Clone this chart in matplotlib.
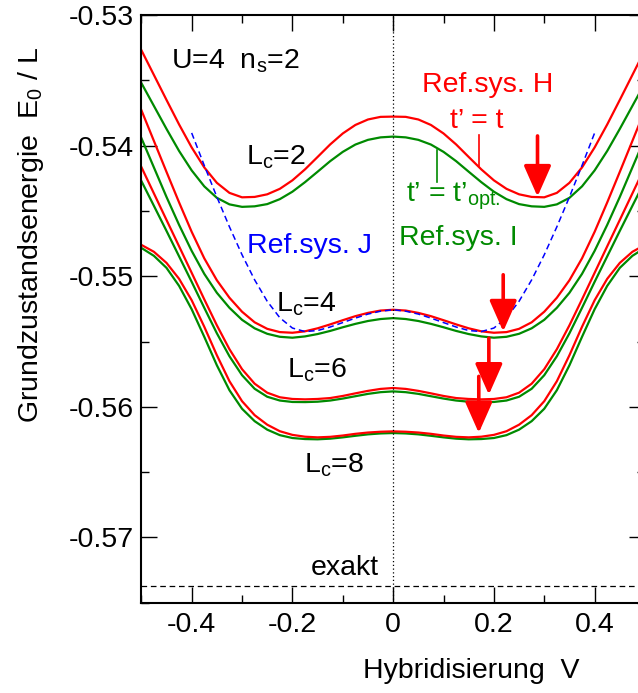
import numpy as np
import matplotlib
matplotlib.use("Agg")
import matplotlib.pyplot as plt

plt.rcParams['font.family'] = 'Liberation Sans'
plt.rcParams['mathtext.fontset'] = 'custom'
plt.rcParams['mathtext.rm'] = 'Liberation Sans'
plt.rcParams['mathtext.it'] = 'Liberation Sans:italic'
plt.rcParams['axes.unicode_minus'] = False

# hybridisation grid
V = np.linspace(-0.5, 0.5, 41)
V_J = np.linspace(-0.4, 0.4, 33)

# ref. system H (t' = t), red
H2 = [-0.53268, -0.53459, -0.53650, -0.53838, -0.54014, -0.54167, -0.54285, -0.54362, -0.54396, -0.54393, -0.54373,
      -0.54331, -0.54266, -0.54182, -0.54087, -0.53991, -0.53907, -0.53842, -0.53800, -0.53780, -0.53778,
      -0.53780, -0.53800, -0.53842, -0.53907, -0.53991, -0.54087, -0.54182, -0.54266, -0.54331, -0.54373,
      -0.54393, -0.54396, -0.54362, -0.54285, -0.54167, -0.54014, -0.53838, -0.53650, -0.53459, -0.53268]
H4 = [-0.53727, -0.53964, -0.54201, -0.54435, -0.54660, -0.54863, -0.55031, -0.55165, -0.55272, -0.55353, -0.55403,
      -0.55428, -0.55433, -0.55422, -0.55399, -0.55369, -0.55337, -0.55306, -0.55281, -0.55263, -0.55257,
      -0.55263, -0.55281, -0.55306, -0.55337, -0.55369, -0.55399, -0.55422, -0.55433, -0.55428, -0.55403,
      -0.55353, -0.55272, -0.55165, -0.55031, -0.54863, -0.54660, -0.54435, -0.54201, -0.53964, -0.53727]
H6 = [-0.54163, -0.54366, -0.54569, -0.54771, -0.54974, -0.55177, -0.55376, -0.55559, -0.55712, -0.55823, -0.55892,
      -0.55927, -0.55940, -0.55943, -0.55940, -0.55933, -0.55917, -0.55897, -0.55878, -0.55863, -0.55856,
      -0.55863, -0.55878, -0.55897, -0.55917, -0.55933, -0.55940, -0.55943, -0.55940, -0.55927, -0.55892,
      -0.55823, -0.55712, -0.55559, -0.55376, -0.55177, -0.54974, -0.54771, -0.54569, -0.54366, -0.54163]
H8 = [-0.54760, -0.54813, -0.54898, -0.55020, -0.55184, -0.55387, -0.55605, -0.55804, -0.55957, -0.56064, -0.56137,
      -0.56187, -0.56215, -0.56229, -0.56234, -0.56230, -0.56220, -0.56207, -0.56197, -0.56191, -0.56188,
      -0.56191, -0.56197, -0.56207, -0.56220, -0.56230, -0.56234, -0.56229, -0.56215, -0.56187, -0.56137,
      -0.56064, -0.55957, -0.55804, -0.55605, -0.55387, -0.55184, -0.55020, -0.54898, -0.54813, -0.54760]

# ref. system I (t' = t'opt), green
I2 = [-0.53520, -0.53696, -0.53872, -0.54041, -0.54190, -0.54312, -0.54400, -0.54450, -0.54469, -0.54465, -0.54448,
      -0.54410, -0.54353, -0.54280, -0.54200, -0.54119, -0.54048, -0.53992, -0.53956, -0.53937, -0.53931,
      -0.53937, -0.53956, -0.53992, -0.54048, -0.54119, -0.54200, -0.54280, -0.54353, -0.54410, -0.54448,
      -0.54465, -0.54469, -0.54450, -0.54400, -0.54312, -0.54190, -0.54041, -0.53872, -0.53696, -0.53520]
I4 = [-0.53941, -0.54167, -0.54393, -0.54607, -0.54806, -0.54982, -0.55127, -0.55242, -0.55334, -0.55399, -0.55441,
      -0.55464, -0.55471, -0.55461, -0.55443, -0.55419, -0.55391, -0.55365, -0.55343, -0.55328, -0.55321,
      -0.55328, -0.55343, -0.55365, -0.55391, -0.55419, -0.55443, -0.55461, -0.55471, -0.55464, -0.55441,
      -0.55399, -0.55334, -0.55242, -0.55127, -0.54982, -0.54806, -0.54607, -0.54393, -0.54167, -0.53941]
I6 = [-0.54270, -0.54461, -0.54653, -0.54848, -0.55043, -0.55242, -0.55437, -0.55613, -0.55758, -0.55862, -0.55923,
      -0.55952, -0.55963, -0.55964, -0.55961, -0.55952, -0.55937, -0.55919, -0.55901, -0.55888, -0.55882,
      -0.55888, -0.55901, -0.55919, -0.55937, -0.55952, -0.55961, -0.55964, -0.55963, -0.55952, -0.55923,
      -0.55862, -0.55758, -0.55613, -0.55437, -0.55242, -0.55043, -0.54848, -0.54653, -0.54461, -0.54270]
I8 = [-0.54783, -0.54844, -0.54936, -0.55074, -0.55253, -0.55464, -0.55682, -0.55873, -0.56015, -0.56110, -0.56175,
      -0.56217, -0.56239, -0.56247, -0.56249, -0.56244, -0.56234, -0.56222, -0.56211, -0.56204, -0.56201,
      -0.56204, -0.56211, -0.56222, -0.56234, -0.56244, -0.56249, -0.56247, -0.56239, -0.56217, -0.56175,
      -0.56110, -0.56015, -0.55873, -0.55682, -0.55464, -0.55253, -0.55074, -0.54936, -0.54844, -0.54783]

# ref. system J, blue dashed
J = [-0.53903, -0.54152, -0.54393, -0.54622, -0.54836, -0.55028, -0.55192, -0.55318, -0.55397, -0.55424, -0.55416,
     -0.55389, -0.55355, -0.55321, -0.55290, -0.55268, -0.55257,
     -0.55268, -0.55290, -0.55321, -0.55355, -0.55389, -0.55416, -0.55424, -0.55397, -0.55318, -0.55192,
     -0.55028, -0.54836, -0.54622, -0.54393, -0.54152, -0.53903]

E_exakt = -0.57369

# arrows marking the optimum (V, from, to)
arrow_V = [0.2866, 0.2185, 0.190, 0.170]
arrow_from = [-0.53926, -0.54989, -0.55474, -0.55767]
arrow_to = [-0.54390, -0.55423, -0.55907, -0.56200]

RED = '#ff0000'
GREEN = '#008a00'
BLUE = '#0000ff'
FS = 20.5

fig = plt.figure(figsize=(6.38, 6.93), dpi=100)
ax = fig.add_axes([141.3/638, 1-602.7/693, (645-141.3)/638, (602.7-15)/693])

for h, i in [(H2, I2), (H4, I4), (H6, I6), (H8, I8)]:
    ax.plot(V, i, color=GREEN, lw=1.6, solid_joinstyle='round')
    ax.plot(V, h, color=RED, lw=1.6, solid_joinstyle='round')
ax.plot(V_J, J, color=BLUE, lw=1.1, dashes=(4, 2.5))

ax.axvline(0, color='k', lw=0.9, dashes=(1, 2))
ax.axhline(E_exakt, color='k', lw=0.9, dashes=(4.5, 3))

for v, e0, e1 in zip(arrow_V, arrow_from, arrow_to):
    ax.annotate('', xy=(v, e1), xytext=(v, e0),
                arrowprops=dict(arrowstyle='-|>,head_length=0.95,head_width=0.42',
                                color=RED, lw=2.6, mutation_scale=20,
                                shrinkA=0, shrinkB=0))

# little pointer lines for the labels
ax.plot([0.1708, 0.1708], [-0.53918, -0.54153], color=RED, lw=1.2)
ax.plot([0.0866, 0.0866], [-0.54033, -0.54275], color=GREEN, lw=1.2)

ax.text(-0.442, -0.53406, r'U=4  n$_\mathregular{s}$=2', fontsize=FS, va='baseline')
ax.text(-0.293, -0.54148, r'L$_\mathregular{c}$=2', fontsize=FS, va='baseline')
ax.text(-0.2335, -0.55272, r'L$_\mathregular{c}$=4', fontsize=FS, va='baseline')
ax.text(-0.2117, -0.55777, r'L$_\mathregular{c}$=6', fontsize=FS, va='baseline')
ax.text(-0.176, -0.56502, r'L$_\mathregular{c}$=8', fontsize=FS, va='baseline')
ax.text(-0.291, -0.54821, 'Ref.sys. J', fontsize=FS, va='baseline', color=BLUE)
ax.text(-0.164, -0.57285, 'exakt', fontsize=FS, va='baseline')
ax.text(0.187, -0.53587, 'Ref.sys. H', fontsize=FS, va='baseline', ha='center', color=RED)
ax.text(0.1665, -0.53867, 't\u2019 = t', fontsize=FS, va='baseline', ha='center', color=RED)
ax.text(0.0264, -0.54428, 't\u2019 = t\u2019$_\\mathregular{opt.}$', fontsize=FS, va='baseline', color=GREEN)
ax.text(0.0125, -0.54760, 'Ref.sys. I', fontsize=FS, va='baseline', color=GREEN)

ax.set_xlim(-0.5, 0.5)
ax.set_ylim(-0.575, -0.53)
ax.set_xticks([-0.4, -0.2, 0, 0.2, 0.4])
ax.set_xticklabels(['-0.4', '-0.2', '0', '0.2', '0.4'])
ax.set_xticks([-0.5, -0.3, -0.1, 0.1, 0.3, 0.5], minor=True)
ax.set_yticks([-0.57, -0.56, -0.55, -0.54, -0.53])
ax.set_yticklabels(['-0.57', '-0.56', '-0.55', '-0.54', '-0.53'])
ax.set_yticks([-0.575, -0.565, -0.555, -0.545, -0.535], minor=True)
ax.tick_params(which='both', direction='in', top=True, right=True, width=1.0, labelsize=FS)
ax.tick_params(which='major', length=11.5)
ax.tick_params(which='minor', length=5.8)
ax.tick_params(axis='x', pad=7)
ax.tick_params(axis='y', pad=5.5)
for s in ax.spines.values():
    s.set_linewidth(1.5)

fig.text(471/638, 1-678/693, 'Hybridisierung  V', fontsize=FS, ha='center', va='baseline')
fig.text(38/638, 1-235/693, r'Grundzustandsenergie  E$_\mathregular{0}$ / L', fontsize=FS,
         rotation=90, rotation_mode='anchor', ha='center', va='baseline')

fig.savefig('out.png', dpi=100)
